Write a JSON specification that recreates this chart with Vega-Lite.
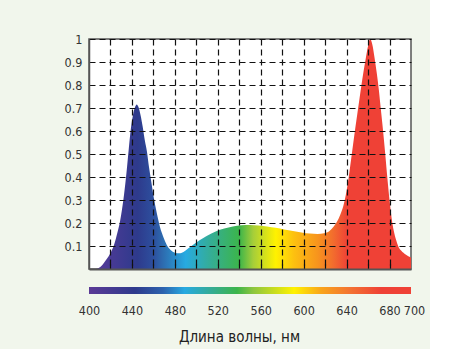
{
  "$schema": "https://vega.github.io/schema/vega-lite/v6.json",
  "background": "#f1f6ec",
  "padding": {"left": 63, "top": 32, "right": 5, "bottom": 5},
  "spacing": 18,
  "bounds": "flush",
  "config": {
    "font": "DejaVu Sans Condensed, Liberation Sans, sans-serif",
    "axis": {"labelFont": "DejaVu Sans Condensed, Liberation Sans, sans-serif", "titleFont": "DejaVu Sans Condensed, Liberation Sans, sans-serif", "labelColor": "#333", "titleColor": "#222", "labelFlush": false, "labelOverlap": false}
  },
  "datasets": {
    "spectrum": [
      {"wl": 400, "v": 0}, {"wl": 406, "v": 0}, {"wl": 409, "v": 0.004}, {"wl": 412, "v": 0.015},
      {"wl": 416, "v": 0.04}, {"wl": 420, "v": 0.07}, {"wl": 423, "v": 0.1}, {"wl": 426, "v": 0.15},
      {"wl": 429, "v": 0.21}, {"wl": 432, "v": 0.3}, {"wl": 434.5, "v": 0.4}, {"wl": 437, "v": 0.52},
      {"wl": 439, "v": 0.61}, {"wl": 441, "v": 0.67}, {"wl": 443, "v": 0.705}, {"wl": 444.5, "v": 0.715},
      {"wl": 446, "v": 0.705}, {"wl": 448, "v": 0.67}, {"wl": 450, "v": 0.62}, {"wl": 452, "v": 0.56},
      {"wl": 454, "v": 0.51}, {"wl": 456, "v": 0.44}, {"wl": 458, "v": 0.38}, {"wl": 460, "v": 0.32},
      {"wl": 462, "v": 0.27}, {"wl": 464, "v": 0.225}, {"wl": 466, "v": 0.185}, {"wl": 468, "v": 0.155},
      {"wl": 470, "v": 0.13}, {"wl": 473, "v": 0.1}, {"wl": 476, "v": 0.083}, {"wl": 480, "v": 0.071},
      {"wl": 484, "v": 0.068}, {"wl": 488, "v": 0.074}, {"wl": 492, "v": 0.088}, {"wl": 497, "v": 0.105},
      {"wl": 503, "v": 0.125}, {"wl": 510, "v": 0.145}, {"wl": 518, "v": 0.163}, {"wl": 526, "v": 0.176},
      {"wl": 534, "v": 0.185}, {"wl": 542, "v": 0.19}, {"wl": 550, "v": 0.191}, {"wl": 558, "v": 0.189},
      {"wl": 566, "v": 0.185}, {"wl": 574, "v": 0.179}, {"wl": 582, "v": 0.172}, {"wl": 590, "v": 0.165},
      {"wl": 598, "v": 0.159}, {"wl": 606, "v": 0.154}, {"wl": 613, "v": 0.152}, {"wl": 619, "v": 0.155},
      {"wl": 624, "v": 0.165}, {"wl": 628, "v": 0.185}, {"wl": 631, "v": 0.205}, {"wl": 634, "v": 0.235},
      {"wl": 637, "v": 0.275}, {"wl": 640, "v": 0.34}, {"wl": 642, "v": 0.4}, {"wl": 644, "v": 0.47},
      {"wl": 646, "v": 0.54}, {"wl": 648, "v": 0.61}, {"wl": 650, "v": 0.675}, {"wl": 652, "v": 0.74},
      {"wl": 654, "v": 0.805}, {"wl": 656, "v": 0.865}, {"wl": 658, "v": 0.92}, {"wl": 660, "v": 0.97},
      {"wl": 662, "v": 1.0}, {"wl": 664, "v": 0.975}, {"wl": 666, "v": 0.92}, {"wl": 668, "v": 0.855},
      {"wl": 670, "v": 0.78}, {"wl": 672, "v": 0.69}, {"wl": 674, "v": 0.6}, {"wl": 676, "v": 0.5},
      {"wl": 678, "v": 0.395}, {"wl": 680, "v": 0.3}, {"wl": 682, "v": 0.22}, {"wl": 684, "v": 0.165},
      {"wl": 686, "v": 0.128}, {"wl": 688, "v": 0.1}, {"wl": 691, "v": 0.079}, {"wl": 695, "v": 0.063},
      {"wl": 700, "v": 0.05}
    ],
    "bar": [{"start": 400, "end": 700}]
  },
  "vconcat": [
    {
      "width": 322,
      "height": 230,
      "view": {"fill": "white", "stroke": "#555", "strokeWidth": 1.5},
      "data": {"name": "spectrum"},
      "mark": {
        "type": "area",
        "interpolate": "monotone",
        "clip": true,
        "color": {
          "gradient": "linear", "x1": 0, "x2": 1, "y1": 0, "y2": 0,
          "stops": [
            {"offset": 0.0, "color": "#5d3a9b"},
            {"offset": 0.15, "color": "#2e3a8c"},
            {"offset": 0.2, "color": "#2d4f9e"},
            {"offset": 0.23, "color": "#2d6cb0"},
            {"offset": 0.3, "color": "#27aae1"},
            {"offset": 0.373, "color": "#34ad9a"},
            {"offset": 0.467, "color": "#3cb54a"},
            {"offset": 0.51, "color": "#a6ce39"},
            {"offset": 0.58, "color": "#fff200"},
            {"offset": 0.637, "color": "#fdc010"},
            {"offset": 0.71, "color": "#f7941d"},
            {"offset": 0.76, "color": "#f26b2e"},
            {"offset": 0.803, "color": "#ef4136"},
            {"offset": 1.0, "color": "#ef4136"}
          ]
        }
      },
      "encoding": {
        "x": {
          "field": "wl", "type": "quantitative",
          "scale": {"domain": [400, 700], "nice": false, "zero": false},
          "axis": {
            "values": [420, 440, 460, 480, 500, 520, 540, 560, 580, 600, 620, 640, 660, 680],
            "labels": false, "title": null,
            "domain": true, "domainColor": "#555", "domainWidth": 2,
            "grid": true, "gridDash": [6, 4], "gridColor": "#111", "gridWidth": 1.2, "gridOpacity": 1,
            "ticks": true, "tickSize": -5, "tickColor": "#111", "tickWidth": 1.2,
            "zindex": 1
          }
        },
        "y": {
          "field": "v", "type": "quantitative",
          "scale": {"domain": [0, 1], "nice": false},
          "axis": {
            "values": [0.1, 0.2, 0.3, 0.4, 0.5, 0.6, 0.7, 0.8, 0.9, 1],
            "format": "~g", "title": null,
            "domain": true, "domainColor": "#555", "domainWidth": 1.5,
            "ticks": false, "labelPadding": 7, "labelFontSize": 12.5,
            "grid": true, "gridDash": [6, 4], "gridColor": "#111", "gridWidth": 1.2, "gridOpacity": 1,
            "zindex": 1
          }
        }
      }
    },
    {
      "width": 322,
      "height": 7,
      "view": {"stroke": null},
      "data": {"name": "bar"},
      "mark": {
        "type": "rect",
        "color": {
          "gradient": "linear", "x1": 0, "x2": 1, "y1": 0, "y2": 0,
          "stops": [
            {"offset": 0.0, "color": "#5b3a96"},
            {"offset": 0.143, "color": "#2e3a8c"},
            {"offset": 0.23, "color": "#2d63ae"},
            {"offset": 0.297, "color": "#27aae1"},
            {"offset": 0.383, "color": "#35ac92"},
            {"offset": 0.46, "color": "#3cb54a"},
            {"offset": 0.51, "color": "#8dc63f"},
            {"offset": 0.637, "color": "#fff200"},
            {"offset": 0.72, "color": "#f9a51b"},
            {"offset": 0.81, "color": "#f37332"},
            {"offset": 0.907, "color": "#ef4136"},
            {"offset": 1.0, "color": "#ef4136"}
          ]
        }
      },
      "encoding": {
        "x": {
          "field": "start", "type": "quantitative",
          "scale": {"domain": [400, 700], "nice": false, "zero": false},
          "axis": {
            "values": [400, 440, 480, 520, 560, 600, 640, 680, 700],
            "domain": false, "ticks": false, "grid": false,
            "labelPadding": 10, "labelFontSize": 12.5,
            "labelOffset": {"condition": {"test": "datum.value == 700", "value": 3}, "value": 0},
            "title": "Длина волны, нм", "titleFontSize": 15, "titleFontWeight": "normal",
            "titleX": 150, "titleY": 42, "titleAlign": "center", "titleBaseline": "middle"
          }
        },
        "x2": {"field": "end"}
      }
    }
  ]
}
